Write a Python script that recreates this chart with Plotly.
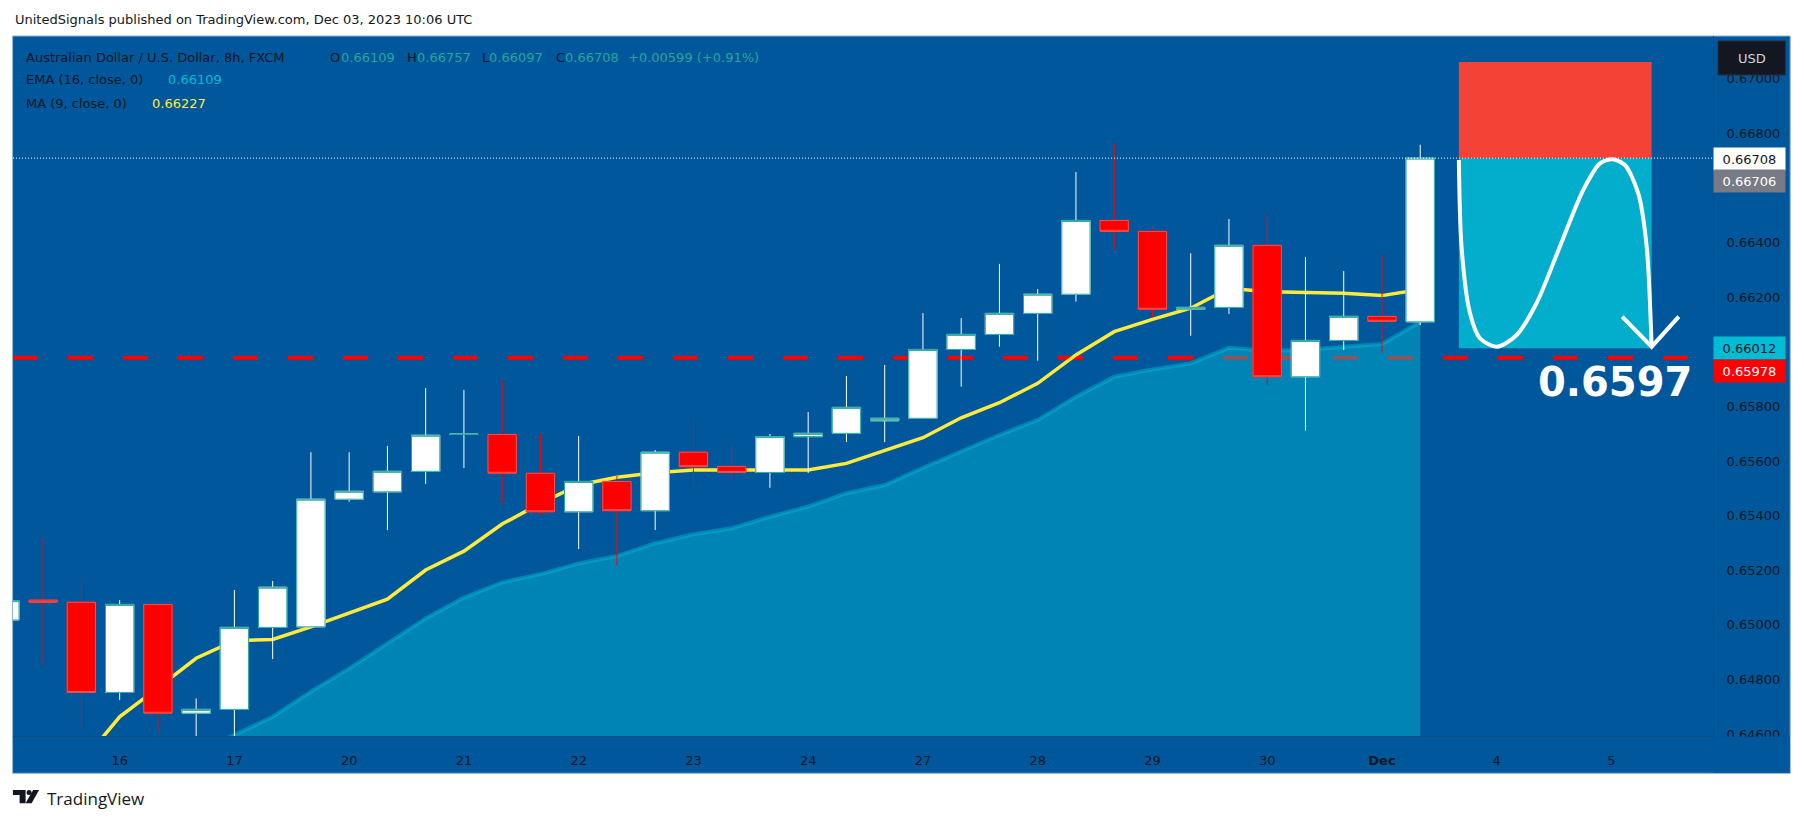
"""AUD/USD 8h candlestick chart with a short position sketch."""

import plotly.graph_objects as go

# the page keeps its 8px body margin, so the figure is placed with that in mind
PAGE_MARGIN = 8
W, H = 1788, 805
PLOT_L, PLOT_R, PLOT_T, PLOT_B = 13.4, 1713.3, 36, 736

BG = "#01579B"
TEXT = "#131722"
FONT = "DejaVu Sans"

INDEX = list(range(38))
OPEN = [
    0.65018, 0.65091, 0.65083, 0.64753, 0.65075, 0.64677, 0.64691, 0.64991, 0.64993, 0.6546,
    0.65487, 0.65562, 0.65697, 0.65697, 0.65555, 0.65414, 0.65525, 0.65418, 0.65632, 0.6558,
    0.65558, 0.65689, 0.65701, 0.65747, 0.65756, 0.66008, 0.66063, 0.6614, 0.6621, 0.6648,
    0.6644, 0.66155, 0.66162, 0.66389, 0.65908, 0.66041, 0.66129, 0.66109,
]
HIGH = [
    0.65089, 0.65319, 0.65171, 0.65091, 0.65079, 0.64731, 0.65128, 0.65161, 0.65632, 0.65632,
    0.65655, 0.65867, 0.6586, 0.65896, 0.65699, 0.65691, 0.65545, 0.6564, 0.6575, 0.65657,
    0.65699, 0.65779, 0.65911, 0.65951, 0.66141, 0.66123, 0.66321, 0.66229, 0.66657, 0.66762,
    0.66449, 0.6636, 0.66485, 0.66504, 0.66346, 0.66295, 0.66354, 0.66757,
]
LOW = [
    0.65018, 0.64853, 0.64615, 0.64725, 0.64609, 0.6455, 0.6455, 0.64875, 0.64993, 0.65451,
    0.65347, 0.65516, 0.65574, 0.65445, 0.65402, 0.65278, 0.65217, 0.65347, 0.65509, 0.65524,
    0.65502, 0.65556, 0.65669, 0.65669, 0.65756, 0.65872, 0.66018, 0.65967, 0.66183, 0.66374,
    0.66126, 0.66058, 0.66138, 0.65878, 0.65711, 0.66006, 0.65996, 0.66097,
]
CLOSE = [
    0.65089, 0.65083, 0.64753, 0.65075, 0.64677, 0.64691, 0.64991, 0.65138, 0.6546, 0.65489,
    0.65562, 0.65694, 0.65698, 0.65555, 0.65414, 0.65525, 0.65418, 0.65632, 0.65579, 0.65558,
    0.65689, 0.65701, 0.65796, 0.65756, 0.66008, 0.66063, 0.6614, 0.6621, 0.6648, 0.6644,
    0.66155, 0.66162, 0.66389, 0.65908, 0.66041, 0.66129, 0.66111, 0.66708,
]

MA_X = list(range(2, 38))
MA = [
    0.64495, 0.64664, 0.6477, 0.64878, 0.64942, 0.64947, 0.64993, 0.65043, 0.65094, 0.65201,
    0.6527, 0.65369, 0.65445, 0.65512, 0.6554, 0.65557, 0.65567, 0.65567, 0.65567, 0.65567,
    0.65591, 0.65639, 0.65685, 0.65758, 0.65813, 0.65884, 0.65988, 0.66073, 0.66118, 0.66159,
    0.66232, 0.66219, 0.66216, 0.66214, 0.66205, 0.66227,
]

EMA_X = list(range(5, 38))
EMA = [
    0.64542, 0.64597, 0.64664, 0.64756, 0.64841, 0.64933, 0.65024, 0.651, 0.65156, 0.65186,
    0.65225, 0.65252, 0.65299, 0.65332, 0.65354, 0.65396, 0.65433, 0.65482, 0.65512, 0.65575,
    0.65634, 0.65695, 0.6575, 0.65835, 0.65908, 0.65935, 0.65957, 0.66014, 0.66003, 0.66006,
    0.66018, 0.66028, 0.66109,
]

LAST_CLOSE = 0.66708
TARGET = 0.65978
TARGET_X = [0.21, 44.0]
STOP_TOP = 0.6706
TAKE_BOTTOM = 0.66012
POSITION_X = [38.01, 43.05]

SKETCH_X = [38.01, 38.08, 38.30, 38.56, 39.01, 39.52, 40.04, 40.65, 41.26, 41.70, 42.02, 42.35, 42.70, 42.92, 43.05]
SKETCH_Y = [0.66701, 0.66384, 0.66141, 0.66049, 0.66018, 0.66061, 0.66177, 0.66384, 0.66591, 0.66689, 0.66704, 0.66683, 0.66579, 0.66384, 0.66018]
ARROW_X = [42.28, 43.05, 43.76]
ARROW_Y = [0.66128, 0.66018, 0.66128]

DAY_TICKS = [3, 6, 9, 12, 15, 18, 21, 24, 27, 30, 33, 36, 39, 42]
DAY_LABELS = ["16", "17", "20", "21", "22", "23", "24", "27", "28", "29", "30", "<b>Dec</b>", "4", "5"]
PRICE_TICKS = [0.646, 0.648, 0.65, 0.652, 0.654, 0.656, 0.658, 0.66, 0.662, 0.664, 0.666, 0.668, 0.67]

X_RANGE = [0.212, 44.654]
Y_RANGE = [0.645936, 0.671549]


def px_x(x):
    # paper coordinates run over the plot area, not the whole figure
    return (x - PLOT_L) / (PLOT_R - PLOT_L)


def px_y(y):
    return (PLOT_B - y) / (PLOT_B - PLOT_T)


def paper_rect(x0, y0, x1, y1, fill, layer="below", line=None):
    return dict(
        type="rect", xref="paper", yref="paper", layer=layer,
        x0=px_x(x0), x1=px_x(x1), y0=px_y(y0), y1=px_y(y1),
        fillcolor=fill, line=dict(width=1 if line else 0, color=line or fill),
    )


def label(x, y, text, color=TEXT, size=13, xanchor="left", family=FONT, **kwargs):
    return dict(
        xref="paper", yref="paper", x=px_x(x), y=px_y(y), text=text, showarrow=False,
        xanchor=xanchor, yanchor="middle", font=dict(family=family, size=size, color=color),
        **kwargs,
    )


def price_tag(y, text, fill, color):
    return label(1713.3, y, text, color=color, bgcolor=fill, width=71, height=22, align="center", borderpad=0)


fig = go.Figure()

# everything but the candles sits on the base axes, the candles go above them
fig.add_trace(go.Scatter(
    x=TARGET_X, y=[TARGET, TARGET], mode="lines",
    line=dict(color="#FF0000", width=4, dash="25px,30px"),
))
fig.add_trace(go.Scatter(
    x=EMA_X, y=EMA, mode="lines", fill="tozeroy", fillcolor="rgba(0,188,212,0.45)",
    line=dict(color="rgba(0,188,212,0.45)", width=4),
))
fig.add_trace(go.Scatter(x=MA_X, y=MA, mode="lines", line=dict(color="#FFEB3B", width=3.5)))
fig.add_trace(go.Scatter(x=SKETCH_X, y=SKETCH_Y, mode="lines", line=dict(color="#FFFFFF", width=4, shape="spline", smoothing=0.8)))
fig.add_trace(go.Scatter(x=ARROW_X, y=ARROW_Y, mode="lines", line=dict(color="#FFFFFF", width=4)))

fig.add_trace(go.Candlestick(
    x=INDEX, open=OPEN, high=HIGH, low=LOW, close=CLOSE, yaxis="y2", whiskerwidth=0,
    increasing=dict(line=dict(color="#FFFFFF", width=1), fillcolor="#FFFFFF"),
    decreasing=dict(line=dict(color="#FF0000", width=1), fillcolor="#FF0000"),
))
fig.add_trace(go.Candlestick(
    x=INDEX, open=OPEN, close=CLOSE, yaxis="y2", whiskerwidth=0,
    high=[max(o, c) for o, c in zip(OPEN, CLOSE)],
    low=[min(o, c) for o, c in zip(OPEN, CLOSE)],
    increasing=dict(line=dict(color="#26A69A", width=1), fillcolor="#FFFFFF"),
    decreasing=dict(line=dict(color="#EF5350", width=1), fillcolor="#FF0000"),
))

shapes = [
    paper_rect(13, 36, 1790.5, 773.3, BG, line="#8DB3D8"),
    dict(type="rect", xref="x", yref="y", layer="below", x0=POSITION_X[0], x1=POSITION_X[1],
         y0=LAST_CLOSE, y1=STOP_TOP, fillcolor="#F44336", line=dict(width=0)),
    dict(type="rect", xref="x", yref="y", layer="below", x0=POSITION_X[0], x1=POSITION_X[1],
         y0=TAKE_BOTTOM, y1=LAST_CLOSE, fillcolor="#02AECB", line=dict(width=0)),
    dict(type="line", xref="x", yref="y", layer="above", x0=X_RANGE[0], x1=X_RANGE[1],
         y0=LAST_CLOSE, y1=LAST_CLOSE, line=dict(color="#FFFFFF", width=1, dash="1px,2px")),
    # hides the clipped bottom tick label, as on the source
    paper_rect(1714, 736.5, 1790, 772.8, BG, layer="above"),
    paper_rect(1718.3, 41, 1785.7, 75, "#131722", layer="above", line="#2A2E39"),
    # TradingView mark
    dict(type="path", xref="paper", yref="paper", layer="above", fillcolor=TEXT, line=dict(width=0),
         path="M {} {} L {} {} L {} {} L {} {} L {} {} L {} {} Z".format(
             px_x(13.3), px_y(790), px_x(26), px_y(790), px_x(26), px_y(803.3),
             px_x(20), px_y(803.3), px_x(20), px_y(795), px_x(13.3), px_y(795))),
    dict(type="circle", xref="paper", yref="paper", layer="above", fillcolor=TEXT, line=dict(width=0),
         x0=px_x(27), x1=px_x(32), y0=px_y(790), y1=px_y(795)),
    dict(type="path", xref="paper", yref="paper", layer="above", fillcolor=TEXT, line=dict(width=0),
         path="M {} {} L {} {} L {} {} L {} {} Z".format(
             px_x(33.5), px_y(790), px_x(39.5), px_y(790), px_x(32), px_y(803.3), px_x(26), px_y(803.3))),
]

annotations = [
    label(13.4, 20, "UnitedSignals published on TradingView.com, Dec 03, 2023 10:06 UTC"),
    label(24, 57, "Australian Dollar / U.S. Dollar, 8h, FXCM"),
    label(328.3, 57, "O"), label(339.5, 57, "0.66109", color="#26A69A"),
    label(405.3, 57, "H"), label(415.5, 57, "0.66757", color="#26A69A"),
    label(480, 57, "L"), label(487.5, 57, "0.66097", color="#26A69A"),
    label(554, 57, "C"), label(563, 57, "0.66708", color="#26A69A"),
    label(626.7, 57, "+0.00599 (+0.91%)", color="#26A69A"),
    label(24, 80, "EMA (16, close, 0)"), label(166, 80, "0.66109", color="#00BCD4"),
    label(24, 103, "MA (9, close, 0)"), label(150, 103, "0.66227", color="#FFEB3B"),
    price_tag(158.7, "0.66708", "#FFFFFF", TEXT),
    price_tag(181.3, "0.66706", "#787B86", "#FFFFFF"),
    price_tag(348.3, "0.66012", "#00BCD4", TEXT),
    price_tag(371.3, "0.65978", "#FF0000", "#FFFFFF"),
    label(1752, 58, "USD", color="#D1D4DC", xanchor="center"),
    label(1615, 382, "<b>0.6597</b>", color="#FFFFFF", size=40, xanchor="center"),
    label(45.7, 798, "TradingView", family="Open Sans", size=17),
]

fig.update_layout(
    width=W, height=H,
    margin=dict(
        l=PLOT_L - PAGE_MARGIN, r=W + PAGE_MARGIN - PLOT_R,
        t=PLOT_T - PAGE_MARGIN, b=H + PAGE_MARGIN - PLOT_B,
        pad=0, autoexpand=False,
    ),
    paper_bgcolor="#FFFFFF", plot_bgcolor="rgba(0,0,0,0)",
    showlegend=False, boxgap=0.26, boxgroupgap=0, hovermode="closest",
    font=dict(family=FONT, size=13, color=TEXT),
    xaxis=dict(
        range=X_RANGE, tickvals=DAY_TICKS, ticktext=DAY_LABELS, showgrid=False, zeroline=False,
        ticks="", ticklabelstandoff=12, rangeslider=dict(visible=False),
        showline=True, linecolor="#0A4C85", linewidth=1,
    ),
    yaxis=dict(
        range=Y_RANGE, tickvals=PRICE_TICKS, tickformat=".5f", side="right", showgrid=False,
        zeroline=False, ticks="", ticklabelstandoff=10, showline=True, linecolor="#0A4C85", linewidth=1,
    ),
    yaxis2=dict(range=Y_RANGE, overlaying="y", side="right", visible=False),
    shapes=shapes,
    annotations=annotations,
)

fig.write_html("out.html")
